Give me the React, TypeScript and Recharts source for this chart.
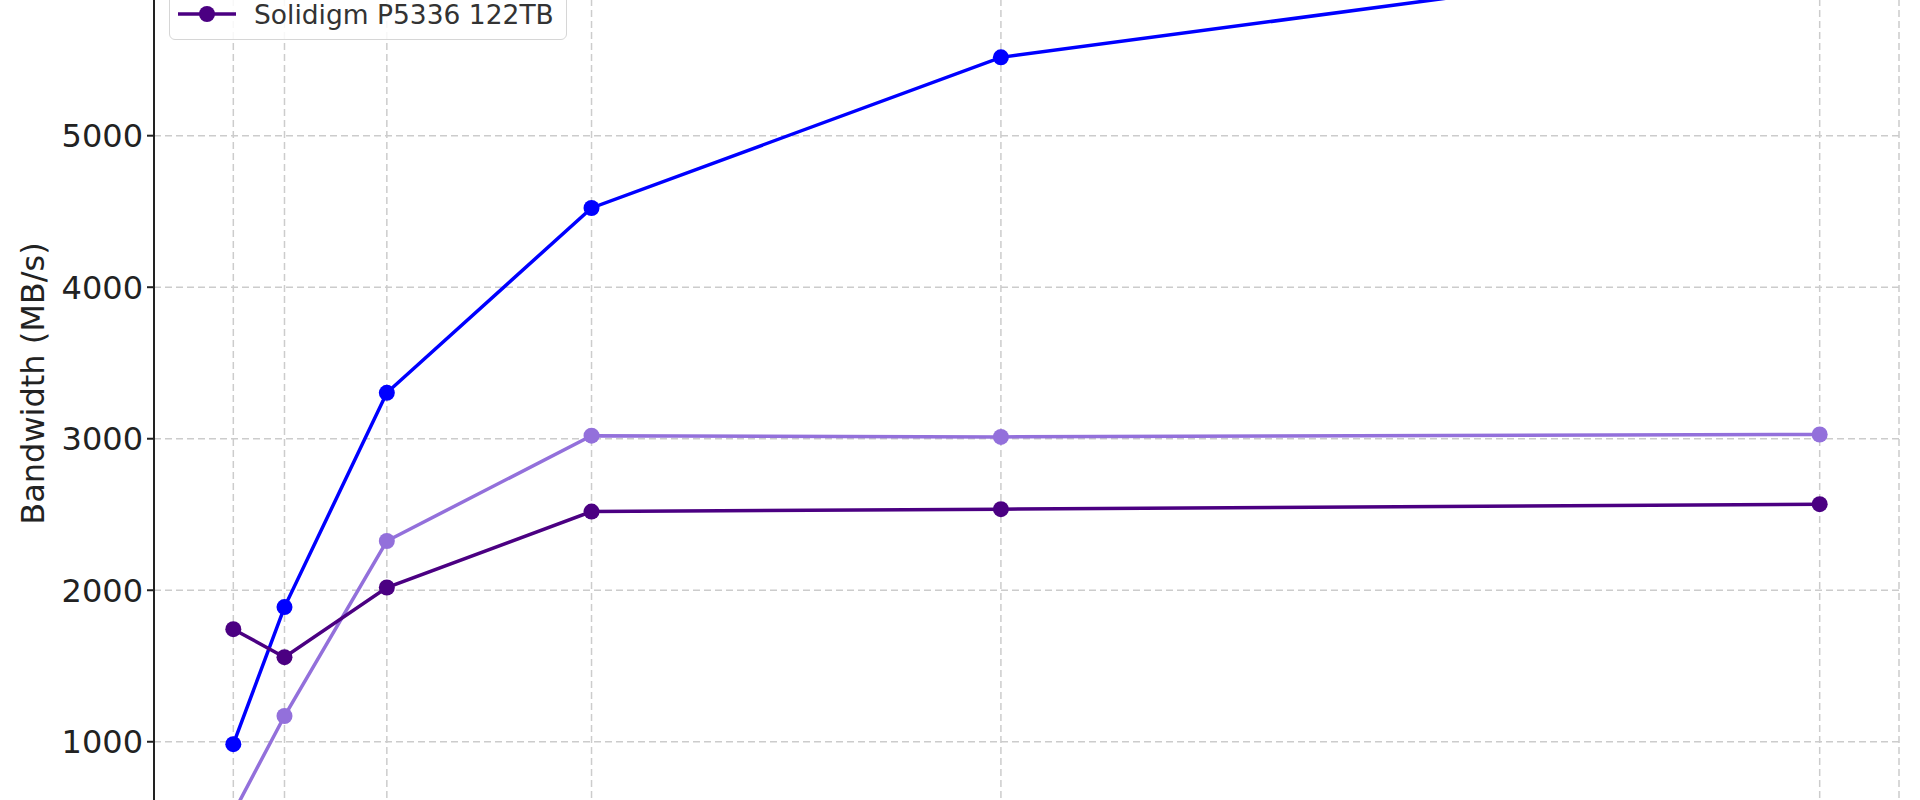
import { CartesianGrid, Legend, Line, LineChart, XAxis, YAxis } from "recharts";

const threads = [1, 2, 4, 8, 16, 32];
const driveA = [984, 1889, 3303, 4523, 5517, 6235];
const driveB = [530, 1170, 2325, 3020, 3012, 3028];
const p5336 = [1743, 1558, 2018, 2519, 2535, 2568];
const yTicks = [1000, 2000, 3000, 4000, 5000, 6000];

const seriesNames = ["Drive A", "Drive B", "Solidigm P5336 122TB"];
const seriesColors = ["#0000ff", "#9370db", "#4b0082"];

const data = threads.map((t, i) => ({
  t,
  a: driveA[i],
  b: driveB[i],
  c: p5336[i],
}));

const FONT = "'DejaVu Sans', sans-serif";

function LegendBox() {
  return (
    <div
      style={{
        border: "1.5px solid #d6d6d6",
        borderRadius: 6,
        background: "rgba(255,255,255,0.85)",
        padding: "10px 12px 10px 8px",
        fontFamily: FONT,
        fontSize: 26.5,
        color: "#333",
      }}
    >
      {seriesNames.map((name, i) => (
        <div
          key={name}
          style={{
            display: "flex",
            alignItems: "center",
            height: 30,
            marginTop: i === 0 ? 0 : 13,
            whiteSpace: "nowrap",
          }}
        >
          <svg width={58} height={20} style={{ marginRight: 18 }}>
            <line x1={0} y1={10} x2={58} y2={10} stroke={seriesColors[i]} strokeWidth={3.5} />
            <circle cx={29} cy={10} r={8} fill={seriesColors[i]} />
          </svg>
          <span>{name}</span>
        </div>
      ))}
    </div>
  );
}

export default function App() {
  return (
    <div
      style={{
        position: "absolute",
        top: 0,
        left: 0,
        width: 1920,
        height: 800,
        overflow: "hidden",
        background: "#fff",
      }}
    >
      <div style={{ position: "absolute", top: -200, left: 0 }}>
        <LineChart
          width={1920}
          height={1150}
          data={data}
          margin={{ top: 111, right: 21, bottom: 64, left: 0 }}
        >
          <CartesianGrid stroke="#cccccc" strokeDasharray="7 4" strokeWidth={1.5} />
          <XAxis
            dataKey="t"
            type="number"
            domain={[-0.55, 33.55]}
            ticks={threads}
            height={30}
            axisLine={{ stroke: "#222", strokeWidth: 2 }}
            tick={{ fill: "#222", fontSize: 28, fontFamily: FONT }}
          />
          <YAxis
            type="number"
            domain={[246, 6483]}
            allowDataOverflow
            ticks={yTicks}
            width={154}
            tickSize={7}
            tickMargin={4}
            axisLine={{ stroke: "#222", strokeWidth: 2 }}
            tickLine={{ stroke: "#222", strokeWidth: 2 }}
            tick={{ fill: "#222", fontSize: 32, fontFamily: FONT }}
            label={{
              value: "Bandwidth (MB/s)",
              content: (props: any) => {
                const vb = props.viewBox || {};
                const cy = vb.y + vb.height / 2;
                return (
                  <text
                    x={33}
                    y={cy}
                    transform={`rotate(-90, 33, ${cy})`}
                    textAnchor="middle"
                    dominantBaseline="central"
                    fill="#222"
                    fontSize={32}
                    fontFamily={FONT}
                  >
                    Bandwidth (MB/s)
                  </text>
                );
              },
            }}
          />
          <Legend
            layout="horizontal"
            align="center"
            verticalAlign="middle"
            wrapperStyle={{ top: 102, left: 169, width: "auto" }}
            content={() => <LegendBox />}
          />
          <Line
            dataKey="a"
            name={seriesNames[0]}
            stroke={seriesColors[0]}
            strokeWidth={3.5}
            dot={{ r: 8, fill: seriesColors[0], stroke: "none" }}
            isAnimationActive={false}
          />
          <Line
            dataKey="b"
            name={seriesNames[1]}
            stroke={seriesColors[1]}
            strokeWidth={3.5}
            dot={{ r: 8, fill: seriesColors[1], stroke: "none" }}
            isAnimationActive={false}
          />
          <Line
            dataKey="c"
            name={seriesNames[2]}
            stroke={seriesColors[2]}
            strokeWidth={3.5}
            dot={{ r: 8, fill: seriesColors[2], stroke: "none" }}
            isAnimationActive={false}
          />
        </LineChart>
      </div>
    </div>
  );
}
